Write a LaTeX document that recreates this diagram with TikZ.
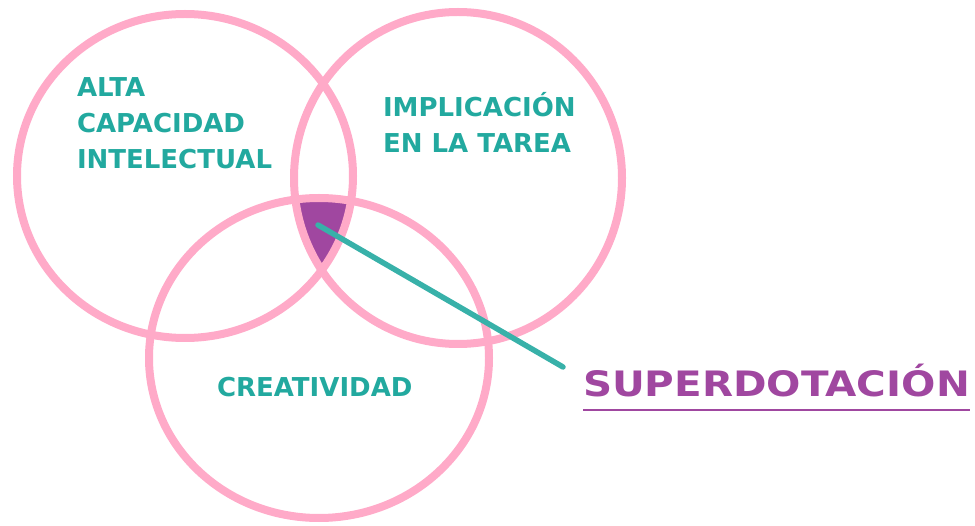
\documentclass[tikz,border=0pt]{standalone}
\usepackage{fontspec}
\setmainfont{DejaVu Sans}
\usepackage{graphicx}
\usetikzlibrary{shapes.geometric}
\definecolor{rosa}{HTML}{FFAAC8}
\definecolor{turquesa}{HTML}{22A99F}
\definecolor{morado}{HTML}{A047A0}
\begin{document}
\begin{tikzpicture}[x=1pt,y=-1pt]
        \tikzstyle{every node}=[inner sep=0pt,outer sep=0pt]
        \tikzstyle{circulo}=[ellipse,draw=rosa,line width=8pt]
        \tikzstyle{rotulo}=[anchor=base west,align=left,text=turquesa,font=\fontsize{26}{36}\selectfont\bfseries]
        \useasboundingbox (0,0) rectangle (975,526);
        % zona comun de los tres circulos
        \begin{scope}
            \clip (185,176) ellipse [x radius=168, y radius=162];
            \clip (458,178) ellipse [x radius=164, y radius=166];
            \fill[morado] (319,358) ellipse [x radius=170, y radius=160];
        \end{scope}
        \node[circulo,minimum width=336pt,minimum height=324pt] (alta) at (185,176) {};
        \node[circulo,minimum width=328pt,minimum height=332pt] (implicacion) at (458,178) {};
        \node[circulo,minimum width=340pt,minimum height=320pt] (creatividad) at (319,358) {};
        \node[rotulo] (t1) at (77,169) {ALTA\\CAPACIDAD\\INTELECTUAL};
        \node[rotulo] (t2) at (383,153) {IMPLICACIÓN\\EN LA TAREA};
        \node[rotulo] (t3) at (217,397) {CREATIVIDAD};
        \node[anchor=base west,text=morado,font=\fontsize{35}{40}\selectfont\bfseries] (super) at (583,397) {\scalebox{1.155}[1]{SUPERDOTACIÓN}};
        \draw[morado,line width=2pt] ([yshift=-13pt]super.base west) -- ([yshift=-13pt]super.base east);
        \coordinate (punta) at (318,225);
        \coordinate (cola) at (563,367);
        \draw[turquesa!90!white,line width=5.5pt,line cap=round] (punta) -- (cola);
    \end{tikzpicture}
\end{document}
